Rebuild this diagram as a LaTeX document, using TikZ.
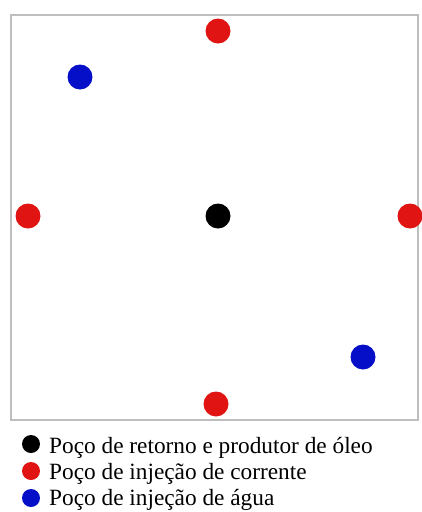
\documentclass[tikz,border=0pt]{standalone}
\usepackage{fontspec}
\setmainfont{Liberation Serif}
\definecolor{wellred}{RGB}{225,20,20}
\definecolor{wellblue}{RGB}{5,15,200}
\definecolor{framegray}{RGB}{190,190,190}
\begin{document}
\begin{tikzpicture}[x=1pt,y=-1pt,
  well/.style={circle,inner sep=0pt,minimum size=25pt},
  keydot/.style={circle,inner sep=0pt,minimum size=18pt},
  keytext/.style={anchor=base west,inner sep=0pt,font=\fontsize{23.3}{26}\selectfont}]
\useasboundingbox (0,0) rectangle (422,512);
\draw[framegray,line width=1.2pt] (11,15) rectangle (418,420);
\node[well,fill=wellred] (n) at (218,31) {};
\node[well,fill=wellblue] (nw) at (80,77) {};
\node[well,fill=wellred] (w) at (28,216) {};
\node[well,fill=black] (c) at (218,216) {};
\node[well,fill=wellred] (e) at (410,216) {};
\node[well,fill=wellblue] (se) at (363,357) {};
\node[well,fill=wellred] (s) at (216,404) {};
\node[keydot,fill=black] (k1) at (31,444) {};
\node[keydot,fill=wellred] (k2) at (31,471) {};
\node[keydot,fill=wellblue] (k3) at (31,498) {};
\node[keytext] (t1) at (49,453) {Poço de retorno e produtor de óleo};
\node[keytext] (t2) at (49,479) {Poço de injeção de corrente};
\node[keytext] (t3) at (49,505) {Poço de injeção de água};
\end{tikzpicture}
\end{document}
